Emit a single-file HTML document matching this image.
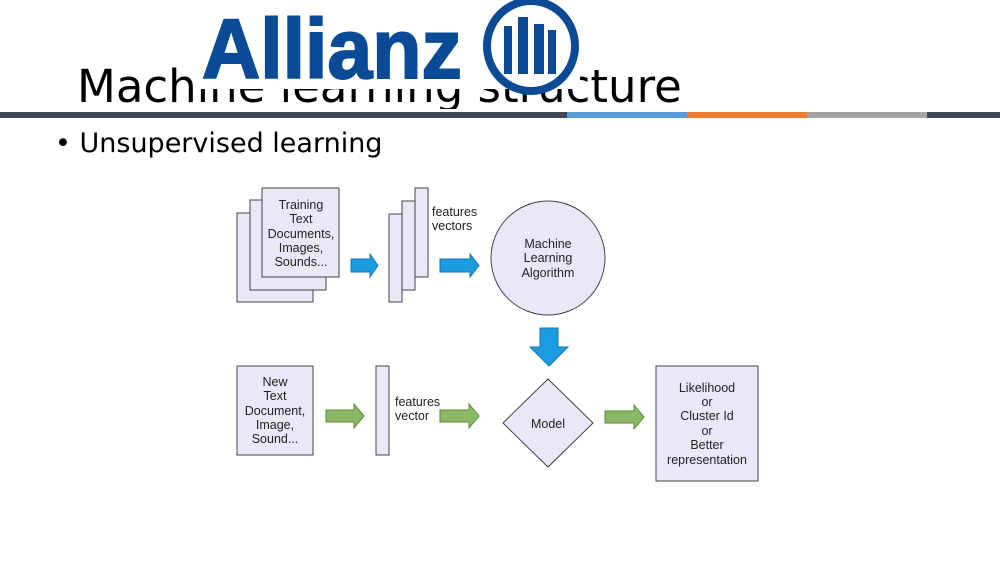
<!DOCTYPE html>
<html><head><style>
body{margin:0;width:1000px;height:562px;background:#fff;overflow:hidden;position:relative}
svg{display:block;position:absolute;left:0;top:0}
.t{position:absolute;font-family:"DejaVu Sans",sans-serif;font-size:45px;line-height:45px;white-space:nowrap;color:#000}
</style></head><body>
<div class="t" style="left:77px;top:64px;width:118px;overflow:hidden">Machine learning structure</div>
<div class="t" style="left:77px;top:64px;width:503px;height:45px;overflow:hidden;clip-path:inset(25px 0 0 118px)">Machine learning structure</div>
<div class="t" style="left:580px;top:64px;width:200px;height:50px;overflow:hidden"><div class="t" style="left:-503px;top:0">Machine learning structure</div></div>
<svg width="1000" height="562" viewBox="0 0 1000 562" xmlns="http://www.w3.org/2000/svg">
<g transform="translate(202,78) scale(0.96,1.0)"><text x="0" y="0" font-family="Liberation Sans, sans-serif" font-weight="bold" font-size="84" fill="#0b4a97" stroke="#0b4a97" stroke-width="2">Allianz</text></g>
<ellipse cx="531" cy="46" rx="44" ry="45" fill="#fff" stroke="#0b4a97" stroke-width="8"/>
<rect x="504" y="26" width="8" height="48" fill="#0b4a97"/>
<rect x="518" y="17" width="10" height="57" fill="#0b4a97"/>
<rect x="534" y="24" width="10" height="50" fill="#0b4a97"/>
<rect x="548" y="30" width="8" height="44" fill="#0b4a97"/>
<rect x="0" y="112" width="567" height="6" fill="#3d4859"/>
<rect x="567" y="112" width="120" height="6" fill="#5b9bd5"/>
<rect x="687" y="112" width="120" height="6" fill="#ed7d31"/>
<rect x="807" y="112" width="120" height="6" fill="#a5a5a5"/>
<rect x="927" y="112" width="73" height="6" fill="#3d4859"/>
<text x="55" y="152" font-family="DejaVu Sans, sans-serif" font-size="27" fill="#000">• Unsupervised learning</text>
<g stroke="#444" stroke-width="1" fill="#e8e8f8">
<rect x="237" y="213" width="76" height="89"/>
<rect x="250" y="200" width="76" height="90"/>
<rect x="262" y="188" width="77" height="89"/>
<rect x="389" y="214" width="13" height="88"/>
<rect x="402" y="201" width="13" height="89"/>
<rect x="415" y="188" width="13" height="89"/>
<circle cx="548" cy="258" r="57"/>
<rect x="237" y="366" width="76" height="89"/>
<rect x="376" y="366" width="13" height="89"/>
<polygon points="548,379 593,423 548,467 503,423"/>
<rect x="656" y="366" width="102" height="115"/>
</g>
<g fill="#1b9be0" stroke="#1776b0" stroke-width="1">
<polygon points="351,259 370,259 370,254 378,265.5 370,277 370,272 351,272"/>
<polygon points="440,259 470,259 470,254 479,265.5 470,277 470,272 440,272"/>
<polygon points="540,328 558,328 558,347 568,347 549,366 530,347 540,347"/>
</g>
<g fill="#8bb865" stroke="#5c8a3a" stroke-width="1">
<polygon points="326,410 354,410 354,404 364,416 354,428 354,422 326,422"/>
<polygon points="440,410 469,410 469,404 479,416 469,428 469,422 440,422"/>
<polygon points="605,411 634,411 634,405 644,417 634,429 634,423 605,423"/>
</g>
<g font-family="Liberation Sans, sans-serif" font-size="12.5" fill="#222" text-anchor="middle">
<text x="301" y="209">Training</text><text x="301" y="223">Text</text><text x="301" y="238">Documents,</text><text x="301" y="252">Images,</text><text x="301" y="266">Sounds...</text>
<text x="548" y="248">Machine</text><text x="548" y="262">Learning</text><text x="548" y="277">Algorithm</text>
<text x="275" y="386">New</text><text x="275" y="400">Text</text><text x="275" y="415">Document,</text><text x="275" y="429">Image,</text><text x="275" y="443">Sound...</text>
<text x="548" y="428">Model</text>
<text x="707" y="392">Likelihood</text><text x="707" y="406">or</text><text x="707" y="420">Cluster Id</text><text x="707" y="435">or</text><text x="707" y="449">Better</text><text x="707" y="464">representation</text>
</g>
<g font-family="Liberation Sans, sans-serif" font-size="12.5" fill="#222">
<text x="432" y="216">features</text><text x="432" y="230">vectors</text>
<text x="395" y="406">features</text><text x="395" y="420">vector</text>
</g>
</svg>
</body></html>
